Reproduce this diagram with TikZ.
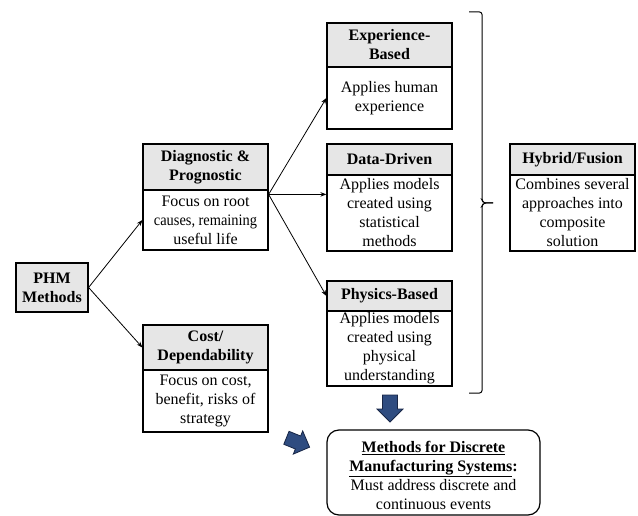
\documentclass[tikz,border=0pt]{standalone}
\usepackage{fontspec}
\usepackage{graphicx}
\setmainfont{Liberation Serif}
\usetikzlibrary{arrows.meta,calc}

\definecolor{hdrgray}{RGB}{230,230,230}
\definecolor{arrowblue}{RGB}{47,76,128}
\definecolor{arrowedge}{RGB}{24,38,70}

\tikzset{
  hdr/.style={draw, fill=hdrgray, line width=1.2pt, minimum width=125pt,
    inner sep=0pt, align=center, font=\fontsize{16}{19}\selectfont\bfseries},
  bdy/.style={draw, fill=white, line width=1.2pt, minimum width=125pt,
    inner sep=0pt, align=center},
  rbox/.style={draw, fill=white, line width=1.2pt, rounded corners=12pt,
    minimum width=213pt, inner sep=0pt, align=center},
  link/.style={-{Stealth[length=6pt,width=4.5pt]}, line width=0.8pt},
  blockarrow/.style={fill=arrowblue, draw=arrowedge, line width=0.8pt, line join=miter},
  bracket/.style={line width=1pt, rounded corners=2.5pt}
}

\begin{document}
\begin{tikzpicture}[x=1pt, y=-1pt, font=\fontsize{16}{19}\selectfont]
\useasboundingbox (0,0) rectangle (638,516);

% root
\node[hdr, minimum width=72pt, minimum height=49pt] (phm) at (52,287.5) {PHM\\Methods};

% second level
\node[hdr, minimum height=46pt] (diagh) at (205.5,167) {Diagnostic \&\\Prognostic};
\node[bdy, minimum height=60pt] (diagb) at (205.5,220)
  {Focus on root\\\scalebox{0.9}[1]{causes, remaining}\\useful life};

\node[hdr, minimum height=45pt] (costh) at (205.5,347.5) {Cost/\\Dependability};
\node[bdy, minimum height=62pt] (costb) at (205.5,401)
  {Focus on cost,\\benefit, risks of\\strategy};

% model families
\node[hdr, minimum height=44pt] (exph) at (389.5,45) {Experience-\\Based};
\node[bdy, minimum height=62pt] (expb) at (389.5,98) {Applies human\\experience};

\node[hdr, minimum height=31pt] (datah) at (389.5,159.5) {Data-Driven};
\node[bdy, minimum height=76pt] (datab) at (389.5,213)
  {Applies models\\created using\\statistical\\methods};

\node[hdr, minimum height=30pt] (physh) at (389.5,296) {Physics-Based};
\node[bdy, minimum height=75pt] (physb) at (389.5,348.5)
  {Applies models\\created using\\physical\\understanding};

% combined approach
\node[hdr, minimum height=31pt] (hybh) at (572.5,159.5) {Hybrid/Fusion};
\node[bdy, minimum height=76pt] (hybb) at (572.5,213)
  {Combines several\\approaches into\\composite\\solution};

% discrete manufacturing box (strut on the first line lowers the text block)
\node[rbox, minimum height=85pt] (dms) at (433.5,472.5)
  {\rule{0pt}{17pt}\textbf{\underline{Methods for Discrete}}\\
   \textbf{\underline{Manufacturing Systems}:}\\
   Must address discrete and\\continuous events};

% connectors
\draw[link] (phm.east) -- (diagb.west);
\draw[link] (phm.east) -- (costh.west);
\coordinate (fork) at ($(diagb.north east)+(0,5)$);
\coordinate (datain) at ($(datab.north west)+(0,20)$);
\draw[link] (fork) -- (expb.west);
\draw[link] (fork) -- (datain);
\draw[link] (fork) -- (physh.west);

% bracket grouping the three families
\coordinate (brtop) at (469,12);
\coordinate (brbot) at (469,393);
\coordinate (brtip) at (493,203);
\draw[bracket] (brtop) -| (482,200) -- (483.5,203) -- (brtip);
\draw[bracket] (brtip) -- (483.5,203) -- (482,206) |- (brbot);

% block arrows toward the discrete manufacturing box
\begin{scope}[shift={(390,408.5)}, rotate=-90]
  \path[blockarrow] (-13.5,-7.5) -- (0.5,-7.5) -- (0.5,-13) -- (13.5,0)
    -- (0.5,13) -- (0.5,7.5) -- (-13.5,7.5) -- cycle;
\end{scope}
\begin{scope}[shift={(298,442.5)}, rotate=-22]
  \path[blockarrow] (-12.5,-7) -- (0,-7) -- (0,-12.5) -- (12.5,0)
    -- (0,12.5) -- (0,7) -- (-12.5,7) -- cycle;
\end{scope}
\end{tikzpicture}
\end{document}
